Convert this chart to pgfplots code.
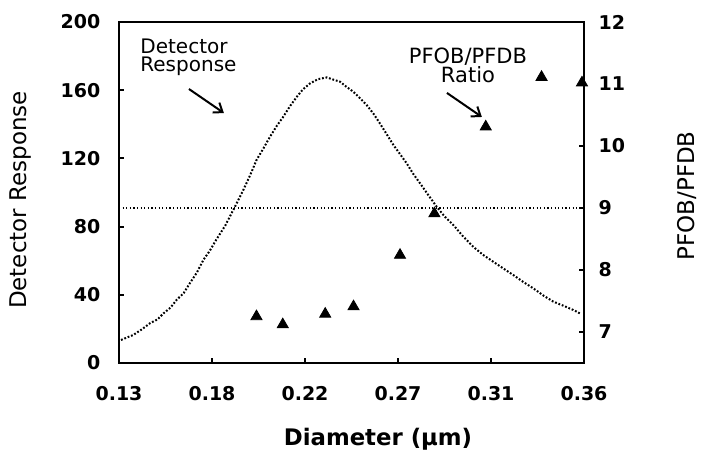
\documentclass[border=0pt]{standalone}
\usepackage{fontspec}
\setmainfont{DejaVu Sans}
\usepackage{pgfplots}
\pgfplotsset{compat=1.18}
\usetikzlibrary{arrows.meta}
\pgfplotstableread{
x y
0.1310 13.5
0.1340 15.0
0.1370 16.4
0.1410 19.5
0.1453 23.3
0.1490 25.5
0.1520 29.1
0.1555 32.5
0.1585 37.0
0.1620 41.0
0.1650 46.7
0.1685 53.0
0.1717 60.4
0.1750 66.0
0.1780 72.1
0.1825 80.5
0.1865 89.7
0.1915 101.5
0.1950 110.5
0.1980 119.0
0.2015 126.0
0.2047 132.7
0.2080 139.0
0.2113 144.5
0.2145 150.5
0.2180 156.2
0.2210 160.5
0.2245 164.0
0.2285 166.5
0.2327 167.5
0.2365 166.0
0.2393 165.0
0.2425 162.0
0.2460 159.0
0.2490 155.5
0.2525 151.3
0.2560 146.0
0.2590 140.6
0.2625 134.0
0.2657 127.9
0.2690 122.5
0.2723 117.1
0.2755 111.0
0.2789 105.4
0.2830 98.5
0.2871 91.7
0.2910 86.0
0.2954 80.9
0.3000 74.5
0.3052 68.2
0.3100 63.5
0.3151 59.4
0.3200 55.5
0.3250 51.6
0.3300 47.5
0.3349 43.8
0.3400 39.5
0.3448 36.0
0.3500 33.5
0.3547 31.1
0.3580 29.1
}\detector
\pgfplotstableread{
x r
0.198 7.25
0.211 7.12
0.232 7.29
0.246 7.41
0.269 8.24
0.286 8.91
0.3114 10.31
0.339 11.11
0.359 11.02
}\ratio
\begin{document}
\begin{tikzpicture}
\pgfplotsset{
  every axis/.append style={
    width=232.5pt, height=170.5pt, scale only axis,
    xmin=0.13, xmax=0.36,
    /pgf/number format/assume math mode=true,
    tick label style={font=\fontsize{9.5}{10}\selectfont\bfseries},
    label style={font=\fontsize{11.5}{13}\selectfont},
    axis line style={line width=1.3pt},
    major tick length=2.5pt,
    tick style={line width=1pt, black},
    tick align=inside,
  }
}
\begin{axis}[
  ymin=0, ymax=200, ytick={0,40,...,200},
  xtick={0.13,0.176,0.222,0.268,0.314,0.36},
  xticklabels={0.13,0.18,0.22,0.27,0.31,0.36},
  xtick pos=left, ytick pos=left,
  xticklabel style={yshift=-8pt},
  yticklabel style={xshift=-5.8pt},
  xlabel={Diameter (µm)},
  xlabel style={font=\fontsize{11.4}{13}\selectfont\bfseries, at={(axis description cs:0.557,-0.2229)}, anchor=center},
  ylabel={Detector Response},
  ylabel style={at={(axis description cs:-0.2112,0.478)}, anchor=center},
]
\addplot[black, line width=1pt, dash pattern=on 0.9pt off 0.9pt] table[x=x,y=y] {\detector};
\node[anchor=north west, inner sep=0pt, align=left, font=\fontsize{10}{9}\selectfont] at (axis cs:0.1404,190.6) {Detector\\Response};
\draw[-{Straight Barb[length=4pt,width=6pt]}, line width=1pt] (axis cs:0.1646,160.7) -- (axis cs:0.1819,146.6);
\node[anchor=north, inner sep=0pt, align=center, font=\fontsize{10.5}{9.5}\selectfont] at (axis cs:0.3026,185.3) {PFOB/PFDB\\Ratio};
\draw[-{Straight Barb[length=4pt,width=6pt]}, line width=1pt] (axis cs:0.2922,158.4) -- (axis cs:0.3095,144.3);
\end{axis}
\begin{axis}[
  ymin=6.5, ymax=12, ytick={7,...,12},
  axis y line*=right, axis x line=none,
  yticklabel style={xshift=3.8pt},
  clip=false,
  ylabel={PFOB/PFDB},
  ylabel style={at={(axis description cs:1.2215,0.49)}, anchor=center},
]
\addplot[black, line width=0.7pt, dash pattern=on 0.6pt off 1.2pt] coordinates {(0.13,9) (0.36,9)};
\addplot[only marks, mark=triangle*, mark size=3.2pt, black] table[x=x,y=r] {\ratio};
\end{axis}
\pgfresetboundingbox
\useasboundingbox ([xshift=-59.5pt,yshift=-45pt]current axis.south west) rectangle ([xshift=58.5pt,yshift=11pt]current axis.north east);
\end{tikzpicture}
\end{document}
